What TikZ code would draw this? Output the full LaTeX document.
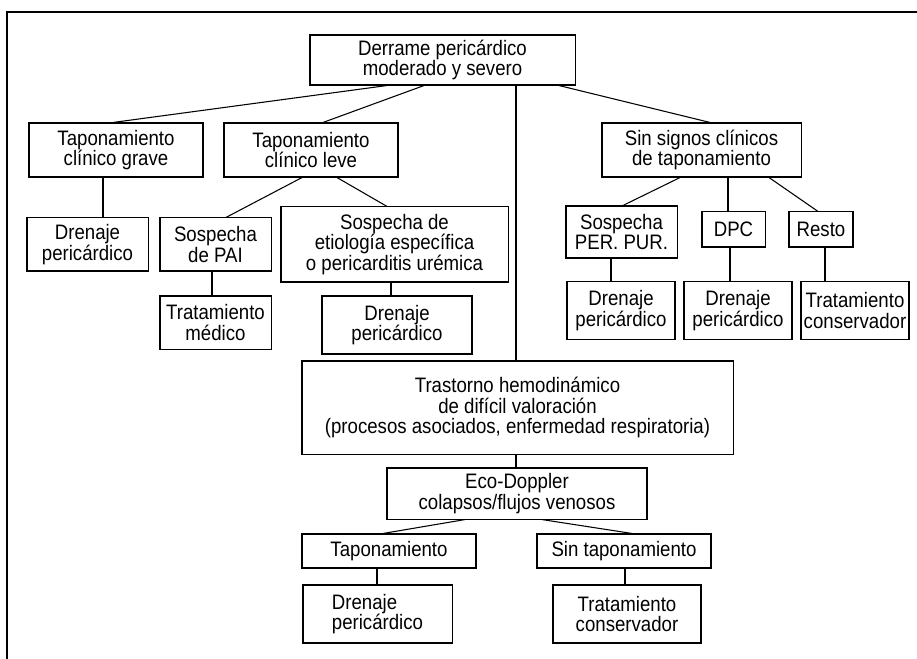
\documentclass[tikz,border=0pt]{standalone}
\usepackage{fontspec}
\setmainfont{Liberation Sans}[FakeStretch=0.89]
\usepackage{tikz}

\begin{document}
\begin{tikzpicture}[x=0.75pt,y=-0.75pt,
		caja/.style={draw, line width=0.8pt, align=center, inner sep=0pt,
			font=\fontsize{15.7}{15.5}\selectfont}]
		\useasboundingbox (0,0) rectangle (917,659);
		%Marco
		\draw [line width=1.1pt] (7,659) -- (7,12) -- (917,12);
		%Nivel 1
		\node [caja, minimum width=198.8pt, minimum height=37.5pt] (derrame) at (442.5,60) {Derrame pericárdico\\moderado y severo};
		%Nivel 2
		\node [caja, minimum width=130.5pt, minimum height=40.5pt] (grave) at (116,150) {Taponamiento\\clínico grave};
		\node [caja, minimum width=130.5pt, minimum height=40.5pt] (leve) at (311,150) {Taponamiento\\clínico leve};
		\node [caja, minimum width=149.3pt, minimum height=40.5pt] (sinsignos) at (701.5,150) {Sin signos clínicos\\de taponamiento};
		%Nivel 3
		\node [caja, minimum width=90.8pt, minimum height=39.8pt] (drenA) at (87.5,244.5) {Drenaje\\pericárdico};
		\node [caja, minimum width=83.3pt, minimum height=39.8pt] (pai) at (215.5,244.5) {Sospecha\\de PAI};
		\node [caja, minimum width=170.3pt, minimum height=56.3pt] (etiol) at (394.5,244.5) {Sospecha de\\etiología específica\\o pericarditis urémica};
		\node [caja, minimum width=83.3pt, minimum height=39pt] (perpur) at (621.5,232) {Sospecha\\PER. PUR.};
		\node [caja, minimum width=47.3pt, minimum height=26.3pt] (dpc) at (733.5,229.5) {DPC};
		\node [caja, minimum width=48pt, minimum height=26.3pt] (resto) at (821,229.5) {Resto};
		%Nivel 4
		\node [caja, minimum width=83.3pt, minimum height=39.8pt] (medico) at (215.5,322.5) {Tratamiento\\médico};
		\node [caja, minimum width=112.5pt, minimum height=43.5pt] (drenB) at (397,325) {Drenaje\\pericárdico};
		\node [caja, minimum width=81pt, minimum height=42.8pt] (drenC) at (621,310.5) {Drenaje\\pericárdico};
		\node [caja, minimum width=81pt, minimum height=42.8pt] (drenD) at (738,310.5) {Drenaje\\pericárdico};
		\node [caja, minimum width=81pt, minimum height=42.8pt] (consA) at (855,310.5) {Tratamiento\\conservador};
		%Rama central
		\node [caja, minimum width=323.3pt, minimum height=69.8pt] (trastorno) at (517.5,407.5) {Trastorno hemodinámico\\de difícil valoración\\(procesos asociados, enfermedad respiratoria)};
		\node [caja, minimum width=195pt, minimum height=38.3pt] (eco) at (517,493.5) {Eco-Doppler\\colapsos/flujos venosos};
		\node [caja, minimum width=130.5pt, minimum height=25.5pt] (tapon) at (389,551) {Taponamiento};
		\node [caja, minimum width=130.5pt, minimum height=25.5pt] (sintapon) at (624,551) {Sin taponamiento};
		\node [caja, align=left, minimum width=111.8pt, minimum height=43.5pt] (drenE) at (377.5,614) {Drenaje\\pericárdico};
		\node [caja, minimum width=111pt, minimum height=43.5pt] (consB) at (627,614) {Tratamiento\\conservador};
		%Conexiones
		\draw [line width=0.8pt] (derrame.south -| 387,0) -- (grave.north -| 113,0);
		\draw [line width=0.8pt] (derrame.south -| 424,0) -- (leve.north -| 323,0);
		\draw [line width=0.8pt] (derrame.south -| 516,0) -- (trastorno.north -| 516,0);
		\draw [line width=0.8pt] (derrame.south -| 559,0) -- (sinsignos.north -| 710,0);
		\draw [line width=0.8pt] (grave.south -| 103,0) -- (drenA.north -| 103,0);
		\draw [line width=0.8pt] (leve.south -| 302,0) -- (pai.north -| 226,0);
		\draw [line width=0.8pt] (leve.south -| 337,0) -- (etiol.north -| 387,0);
		\draw [line width=0.8pt] (pai.south -| 212,0) -- (medico.north -| 212,0);
		\draw [line width=0.8pt] (etiol.south -| 391,0) -- (drenB.north -| 391,0);
		\draw [line width=0.8pt] (sinsignos.south -| 680,0) -- (perpur.north -| 623,0);
		\draw [line width=0.8pt] (sinsignos.south -| 728,0) -- (dpc.north -| 728,0);
		\draw [line width=0.8pt] (sinsignos.south -| 769,0) -- (resto.north -| 818,0);
		\draw [line width=0.8pt] (perpur.south -| 611,0) -- (drenC.north -| 611,0);
		\draw [line width=0.8pt] (dpc.south -| 730,0) -- (drenD.north -| 730,0);
		\draw [line width=0.8pt] (resto.south -| 825,0) -- (consA.north -| 825,0);
		\draw [line width=0.8pt] (trastorno.south -| 516,0) -- (eco.north -| 516,0);
		\draw [line width=0.8pt] (eco.south -| 465,0) -- (tapon.north -| 383,0);
		\draw [line width=0.8pt] (eco.south -| 542,0) -- (sintapon.north -| 632,0);
		\draw [line width=0.8pt] (tapon.south -| 377,0) -- (drenE.north -| 377,0);
		\draw [line width=0.8pt] (sintapon.south -| 625,0) -- (consB.north -| 625,0);
	\end{tikzpicture}
\end{document}
